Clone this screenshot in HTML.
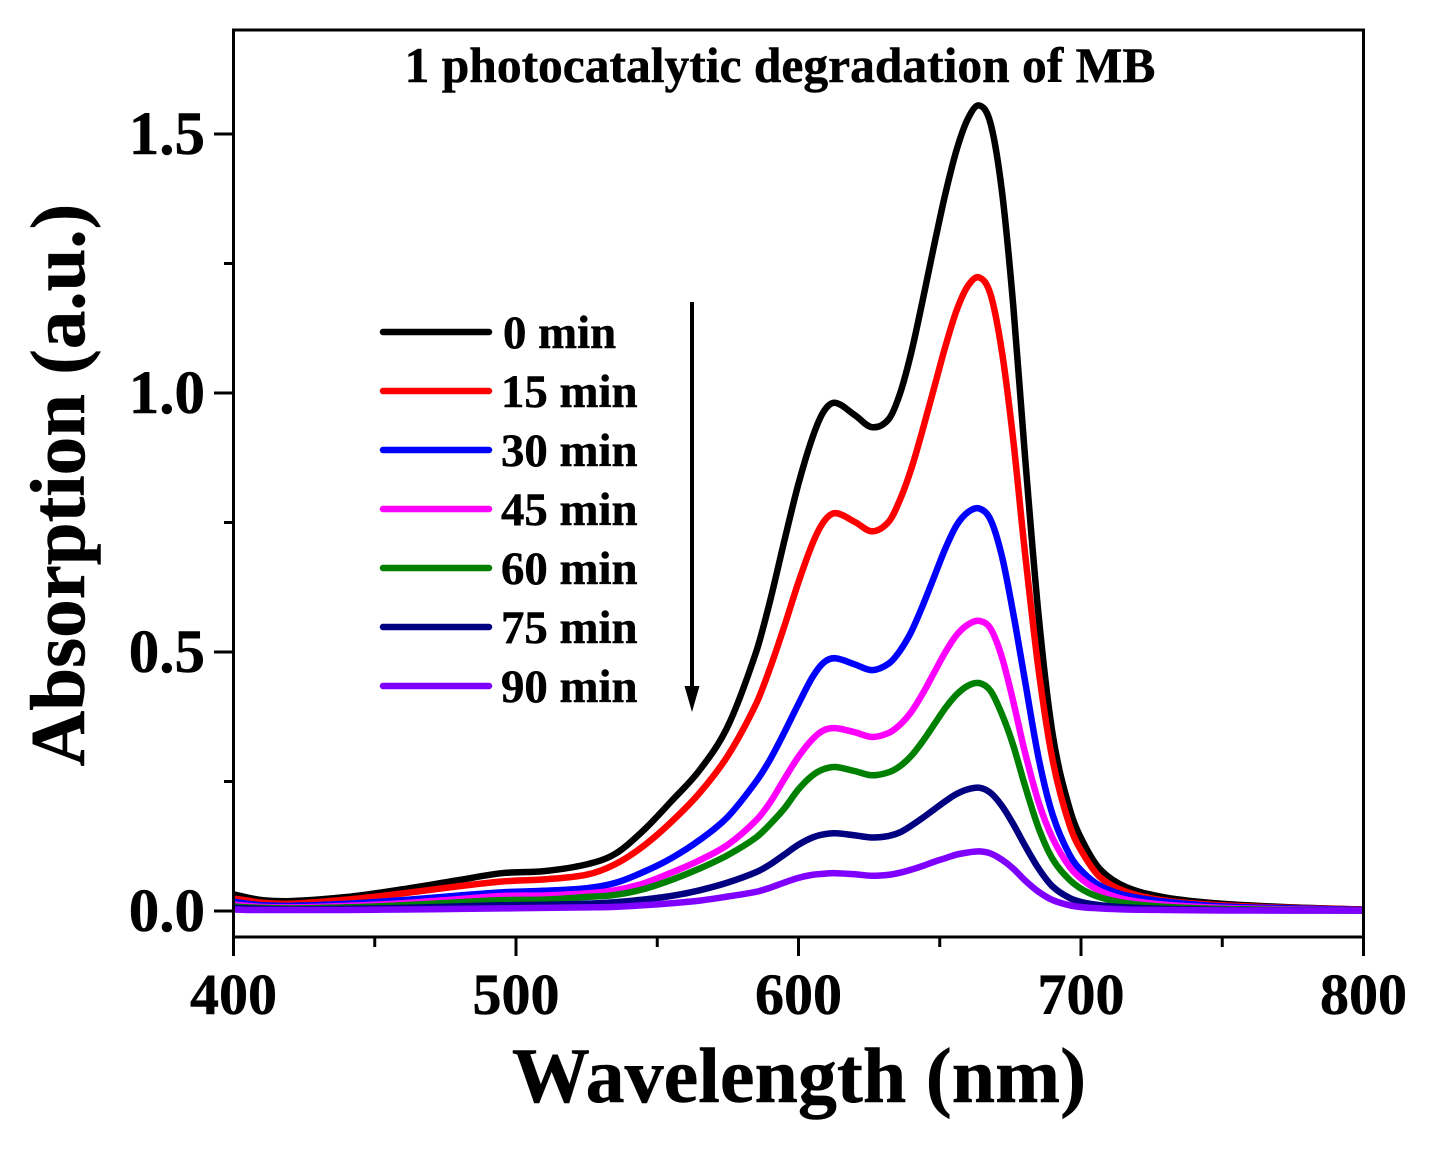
<!DOCTYPE html>
<html lang="en">
<head>
<meta charset="utf-8">
<title>Photocatalytic degradation of MB</title>
<style>
html,body{margin:0;padding:0;background:#fff;width:1438px;height:1154px;overflow:hidden}
svg{display:block}
text{font-family:"Liberation Serif",serif;font-weight:bold;fill:#000;stroke:#000;stroke-width:.5px}
</style>
</head>
<body>
<svg id="chart" xmlns="http://www.w3.org/2000/svg" width="1438" height="1154" viewBox="0 0 1438 1154">
<rect x="0" y="0" width="1438" height="1154" fill="#fff"/>
<g id="series"></g>
<rect x="233.5" y="30" width="1130" height="907" fill="none" stroke="#000" stroke-width="3"/>
<g id="axes"></g>
<text x="780" y="82" text-anchor="middle" font-size="49.5">1 photocatalytic degradation of MB</text>
<text x="799" y="1102" text-anchor="middle" font-size="78">Wavelength (nm)</text>
<text transform="translate(84,485) rotate(-90)" text-anchor="middle" font-size="77">Absorption (a.u.)</text>
<g id="legend"></g>
<g>
<line x1="692" y1="302" x2="692" y2="695" stroke="#000" stroke-width="4"/>
<polygon points="684.5,686 699.5,686 692,712" fill="#000"/>
</g>
</svg>
<script>
const wavelengths = [400,405,410,420,440,460,480,495,510,525,535,545,555,565,575,585,590,595,600,605,609,613,620,626,632,636,640,644,648,652,656,660,664,668,672,676,680,685,690,696,701,707,716,730,750,775,800];
const min0  = [.032,.026,.021,.019,.027,.042,.060,.073,.077,.090,.110,.155,.212,.272,.357,.50,.60,.715,.825,.915,.965,.981,.957,.934,.95,1.0,1.08,1.18,1.285,1.385,1.47,1.53,1.555,1.52,1.39,1.17,.89,.57,.34,.197,.13,.079,.046,.026,.014,.007,.003];
const min15 = [.024,.020,.016,.014,.022,.034,.048,.057,.061,.070,.090,.125,.172,.228,.30,.40,.47,.55,.635,.71,.752,.768,.751,.733,.752,.795,.855,.93,1.01,1.09,1.16,1.207,1.223,1.19,1.08,.91,.70,.465,.29,.165,.108,.064,.037,.02,.011,.006,.003];
const min30 = [.018,.014,.011,.010,.014,.021,.030,.036,.039,.044,.054,.075,.102,.137,.182,.25,.293,.345,.40,.452,.48,.488,.476,.465,.478,.503,.54,.59,.645,.70,.745,.77,.777,.755,.685,.575,.45,.295,.185,.108,.073,.048,.03,.018,.009,.005,.002];
const min45 = [.012,.010,.008,.007,.010,.015,.023,.029,.030,.034,.04,.053,.074,.098,.128,.175,.21,.255,.298,.332,.349,.353,.345,.336,.344,.36,.385,.42,.46,.50,.533,.553,.56,.545,.49,.405,.31,.21,.14,.085,.058,.038,.022,.012,.006,.003,.001];
const min60 = [.009,.007,.006,.005,.007,.011,.017,.021,.022,.027,.031,.042,.06,.082,.108,.142,.168,.198,.235,.262,.274,.278,.27,.262,.268,.28,.30,.328,.36,.392,.418,.435,.44,.425,.38,.32,.245,.16,.10,.06,.04,.026,.015,.008,.004,.002,.001];
const min75 = [.006,.005,.004,.003,.004,.006,.009,.011,.012,.014,.017,.022,.029,.04,.055,.075,.09,.109,.128,.142,.148,.15,.146,.142,.145,.152,.165,.18,.196,.212,.226,.235,.238,.228,.203,.168,.128,.082,.047,.025,.016,.011,.007,.004,.002,.001,.001];
const min90 = [.003,.002,.002,.002,.002,.003,.004,.005,.006,.007,.008,.011,.015,.02,.028,.037,.045,.055,.064,.07,.072,.073,.071,.068,.07,.074,.08,.087,.095,.102,.109,.113,.115,.111,.099,.082,.06,.037,.021,.011,.007,.005,.003,.002,.001,.001,.001];
const seriesLabels = ['0 min','15 min','30 min','45 min','60 min','75 min','90 min'];
const seriesValues = [min0,min15,min30,min45,min60,min75,min90];
const seriesColors = ['#000000','#ff0000','#0000ff','#ff00ff','#008000','#000080','#8000ff'];
const xTickValues = [400,500,600,700,800];
const xMinorValues = [450,550,650,750];
const yTickLabels = ['0.0','0.5','1.0','1.5'];
const yMinorValues = [0.25,0.75,1.25];

const NS = 'http://www.w3.org/2000/svg';
const xScale = v => 233.5 + (v - 400) * 2.825;
const yScale = v => 911 - v * 518;

function make(tag, attrs, parent, content) {
  const el = document.createElementNS(NS, tag);
  for (const k in attrs) el.setAttribute(k, attrs[k]);
  if (content !== undefined) el.textContent = content;
  parent.appendChild(el);
  return el;
}

function smoothPath(xs, ys) {
  const pts = xs.map((x, i) => [xScale(x), yScale(ys[i])]);
  let d = 'M' + pts[0][0].toFixed(2) + ' ' + pts[0][1].toFixed(2);
  for (let i = 0; i < pts.length - 1; i++) {
    const p0 = pts[Math.max(i - 1, 0)], p1 = pts[i], p2 = pts[i + 1], p3 = pts[Math.min(i + 2, pts.length - 1)];
    const t1 = (p2[0] - p1[0]) / (p2[0] - p0[0] || 1) / 3;
    const t2 = (p2[0] - p1[0]) / (p3[0] - p1[0] || 1) / 3;
    const c1x = p1[0] + (p2[0] - p0[0]) * t1, c1y = p1[1] + (p2[1] - p0[1]) * t1;
    const c2x = p2[0] - (p3[0] - p1[0]) * t2, c2y = p2[1] - (p3[1] - p1[1]) * t2;
    d += 'C' + c1x.toFixed(2) + ' ' + c1y.toFixed(2) + ' ' + c2x.toFixed(2) + ' ' + c2y.toFixed(2) + ' ' + p2[0].toFixed(2) + ' ' + p2[1].toFixed(2);
  }
  return d;
}

const seriesGroup = document.getElementById('series');
const axesGroup = document.getElementById('axes');
const legendGroup = document.getElementById('legend');

seriesValues.forEach((vals, i) => {
  const path = make('path', {d: smoothPath(wavelengths, vals), fill: 'none', stroke: seriesColors[i], 'stroke-width': 6.5, 'stroke-linejoin': 'round'}, seriesGroup);
  
  
});

xTickValues.forEach(v => {
  const tick = make('line', {x1: xScale(v), x2: xScale(v), y1: 937, y2: 956, stroke: '#000', 'stroke-width': 3}, axesGroup);
  
  
  const label = make('text', {x: xScale(v), y: 1014, 'text-anchor': 'middle', 'font-size': 58}, axesGroup, String(v));
  
  
});
xMinorValues.forEach(v => {
  const tick = make('line', {x1: xScale(v), x2: xScale(v), y1: 937, y2: 947, stroke: '#000', 'stroke-width': 3}, axesGroup);
  
  
});
yTickLabels.forEach(t => {
  const v = parseFloat(t);
  const tick = make('line', {x1: 214, x2: 233, y1: yScale(v), y2: yScale(v), stroke: '#000', 'stroke-width': 3}, axesGroup);
  
  
  const label = make('text', {x: 205, y: yScale(v) + 20, 'text-anchor': 'end', 'font-size': 61}, axesGroup, t);
  
  
});
yMinorValues.forEach(v => {
  const tick = make('line', {x1: 224, x2: 233, y1: yScale(v), y2: yScale(v), stroke: '#000', 'stroke-width': 3}, axesGroup);
  
  
});

seriesLabels.forEach((t, i) => {
  const rowY = 332 + i * 59;
  const swatch = make('line', {x1: 383, x2: 489, y1: rowY, y2: rowY, stroke: seriesColors[i], 'stroke-width': 6.5, 'stroke-linecap': 'round'}, legendGroup);
  
  
  const label = make('text', {x: i === 0 ? 503 : 501, y: rowY + 16, 'font-size': 46.8}, legendGroup, t);
  
  
});
</script>
</body>
</html>
